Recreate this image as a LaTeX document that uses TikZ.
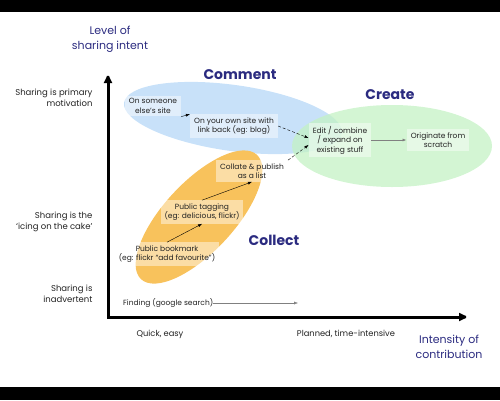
\documentclass[tikz,border=0pt]{standalone}
\usepackage{fontspec}
\setmainfont{Poppins}
\usetikzlibrary{positioning}
\usetikzlibrary{arrows.meta}
\definecolor{NAVY}{HTML}{2B2B80}
\definecolor{BLUE_L}{HTML}{C2DEF8}
\definecolor{GREEN_L}{HTML}{C4F2C4}
\definecolor{ORANGE}{HTML}{F8C25C}
\definecolor{GREY_T}{HTML}{222222}
\tikzset{
	every node/.style = {font=\fontsize{7.5}{9.5}\selectfont, text=GREY_T},
	stepbox/.style = {fill=white, fill opacity=.45, text opacity=1, align=center, inner xsep=4pt, inner ysep=3pt},
	axislbl/.style = {align=right, font=\fontsize{8.5}{11}\selectfont},
	ticklbl/.style = {font=\fontsize{8.3}{10}\selectfont},
	navylbl/.style = {align=center, text=NAVY, font=\fontsize{11}{15}\selectfont},
	hdr/.style = {text=NAVY, font=\fontsize{14}{16}\selectfont\bfseries},
	link/.style = {-{Latex[length=4pt,width=3pt]}, thin, black},
	dotlink/.style = {link, densely dashed}
}
\begin{document}
\begin{tikzpicture}[x=1pt, y=1pt]
		\useasboundingbox (0,0) rectangle (500,-400);
		% frame bands
		\fill[black] (0,0) rectangle (500,-12);
		\fill[black] (0,-387) rectangle (500,-400);
		% areas
		\fill[BLUE_L, opacity=.9, rotate around={-8:(233,-118)}] (233,-118) ellipse (110pt and 33pt);
		\fill[GREEN_L, opacity=.75] (392,-146) ellipse (100pt and 41pt);
		\fill[ORANGE, rotate around={47:(199,-217)}] (199,-217) ellipse (85pt and 35pt);
		% axes
		\coordinate (ytop) at (108,-72);
		\coordinate (origin) at (108,-317);
		\coordinate (xend) at (470,-317);
		\draw[line width=3pt, miter limit=2, {Latex[length=11pt,width=9pt]}-{Latex[length=11pt,width=9pt]}] (ytop) -- (origin) -- (xend);
		% axis labels
		\node[navylbl] (yname) at (110,-39) {Level of\\sharing intent};
		\node[navylbl] (xname) at (449,-347) {Intensity of\\contribution};
		\node[axislbl, anchor=east] (primary) at (96,-98) {Sharing is primary\\motivation};
		\node[axislbl, anchor=east] (icing) at (96,-222) {Sharing is the\\`icing on the cake'};
		\node[axislbl, anchor=east] (inadv) at (96,-294) {Sharing is\\inadvertent};
		\node[ticklbl] (quick) at (160,-334) {Quick, easy};
		\node[ticklbl] (planned) at (346,-334) {Planned, time-intensive};
		% headings
		\node[hdr] (comment) at (240,-75) {Comment};
		\node[hdr] (create) at (390,-95) {Create};
		\node[hdr] (collect) at (274,-240) {Collect};
		% steps
		\node[stepbox] (someone) at (153,-106) {On someone\\else's site};
		\node[stepbox] (own) at (234,-126) {On your own site with\\link back (eg: blog)};
		\node[stepbox] (edit) at (340,-140) {Edit / combine\\/ expand on\\existing stuff};
		\node[stepbox] (orig) at (438,-140) {Originate from\\scratch};
		\node[stepbox] (collate) at (252,-171) {Collate \& publish\\as a list};
		\node[stepbox] (tagging) at (202,-212) {Public tagging\\(eg: delicious, flickr)};
		\node[stepbox] (bookmark) at (167,-254) {Public bookmark\\(eg: flickr ``add favourite'')};
		\node[anchor=west, inner sep=0pt] (finding) at (123,-303) {Finding (google search)};
		\coordinate (findend) at (298,-303);
		% links
		\draw[link] (someone.south east) -- (own.north west);
		\draw[dotlink] (own.east) -- ([yshift=2pt]edit.west);
		\draw[dotlink] (collate.north east) -- ([yshift=-5pt]edit.west);
		\draw[link, gray, thick] (edit) -- (orig);
		\draw[link] (bookmark.north) -- (tagging.south);
		\draw[link] (tagging.north) -- (collate.south);
		\draw[link, gray] (finding.east) -- (findend);
	\end{tikzpicture}
\end{document}
